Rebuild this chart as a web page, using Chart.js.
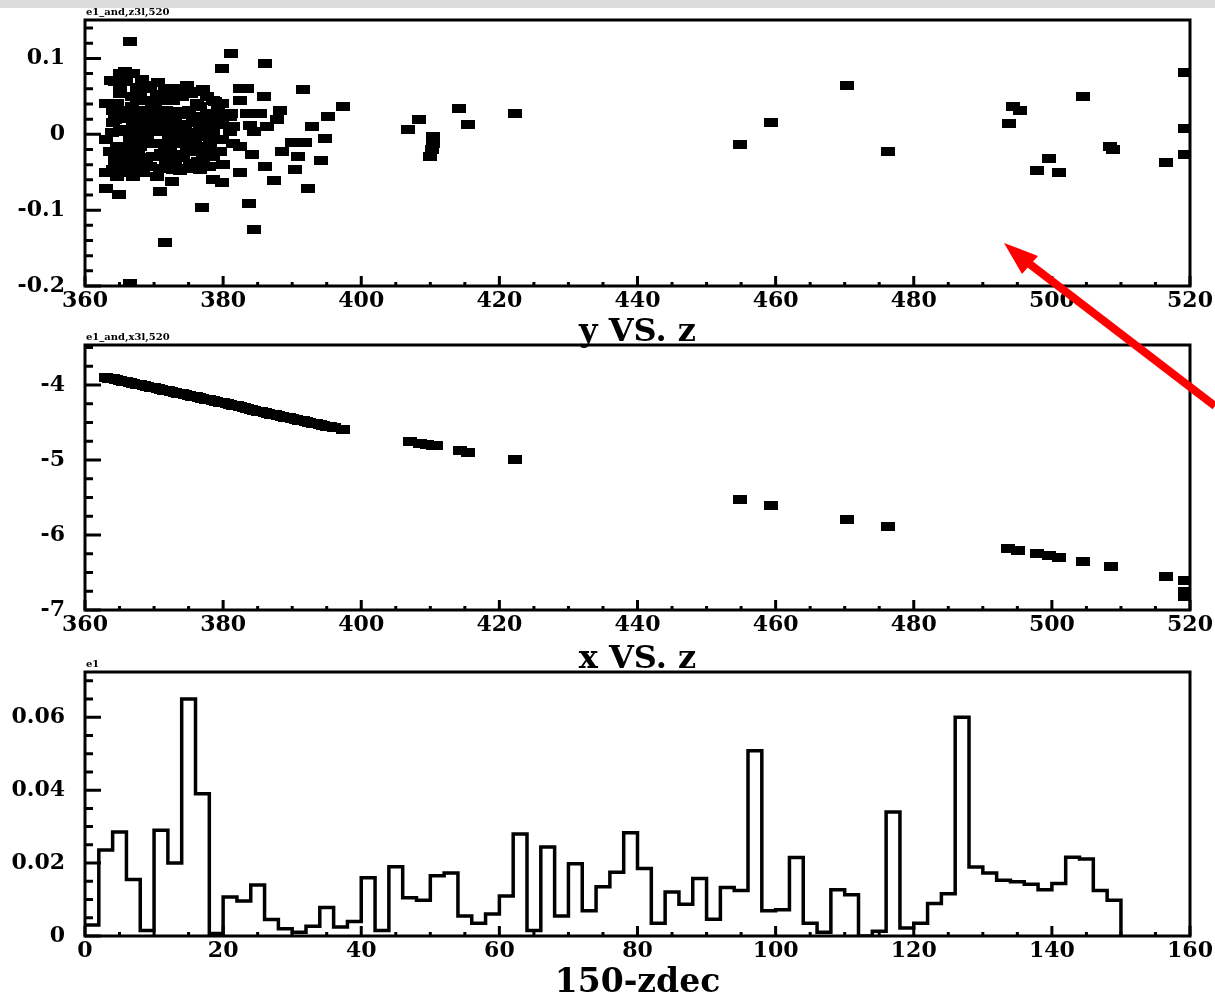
<!DOCTYPE html>
<html>
<head>
<meta charset="utf-8">
<script src="https://cdn.jsdelivr.net/npm/chart.js@4.4.0/dist/chart.umd.min.js"></script>
<style>
  html, body { margin: 0; padding: 0; background: #fff; overflow: hidden; }
  #page { position: relative; width: 1215px; height: 999px; }
  canvas { position: absolute; left: 0; }
  #topbar { position: absolute; left: 0; top: 0; width: 1215px; height: 8px; background: #dcdcdc; }
  #arrow { position: absolute; left: 0; top: 0; }
</style>
</head>
<body>
<div id="page">
  <canvas id="yz" width="1215" height="352" style="top:0"></canvas>
  <canvas id="xz" width="1215" height="350" style="top:330px"></canvas>
  <canvas id="zdec" width="1215" height="345" style="top:660px"></canvas>
  <div id="topbar"></div>
  <svg id="arrow" width="1215" height="999">
    <line x1="1215" y1="406" x2="1027" y2="262" stroke="#ff0000" stroke-width="8"/>
    <polygon points="1004,243 1038,256 1022,274" fill="#ff0000"/>
  </svg>
</div>
<script>
// panel 1: y vs z  [z, y]
const yzPoints = [
  [366.5,0.122],[381.2,0.106],[379.8,0.087],[386.0,0.094],[391.5,0.059],[397.4,0.036],[395.2,0.023],
  [392.8,0.010],[394.8,-0.005],[394.1,-0.034],[392.3,-0.071],[390.4,-0.046],[390.9,-0.029],[390.0,-0.011],
  [391.9,-0.011],[388.5,-0.023],[387.3,-0.061],[386.0,-0.042],[384.2,-0.027],[382.5,-0.051],[383.7,-0.091],
  [384.5,-0.126],[377.0,-0.096],[371.6,-0.143],[370.9,-0.075],[372.6,-0.062],[379.8,-0.064],[378.6,-0.060],
  [366.5,-0.197],[363.1,-0.007],[363.1,-0.051],[363.1,-0.071],[364.9,-0.080],[363.1,0.041],[363.8,0.071],
  [382.5,0.061],[383.5,0.061],[385.9,0.050],[388.3,0.032],[387.8,0.019],[386.4,0.010],[384.4,0.004],
  [385.4,0.028],[382.5,0.045],[381.4,0.010],[381.1,0.028],[377.1,0.059],[378.6,0.045],[383.4,0.028],[383.9,0.012],
  [365.8,0.083],[367.0,0.080],[368.2,0.072],[364.3,0.070],[366.0,0.070],[367.5,0.062],[371.6,0.061],
  [373.3,0.061],[365.1,0.054],[366.8,0.050],[368.9,0.045],[370.4,0.052],[371.8,0.045],[376.7,0.056],
  [377.6,0.050],[378.8,0.043],[363.4,0.040],[365.3,0.032],[366.8,0.037],[368.4,0.032],[370.1,0.037],
  [371.8,0.032],[373.8,0.030],[375.0,0.032],[376.7,0.037],[377.6,0.028],[379.3,0.032],[381.0,0.023],
  [364.3,0.019],[366.0,0.021],[368.0,0.017],[369.7,0.023],[371.3,0.015],[372.8,0.019],[374.5,0.013],
  [376.2,0.017],[377.6,0.010],[379.1,0.013],[365.1,0.004],[366.8,0.002],[368.4,-0.003],[370.4,0.004],
  [372.1,-0.001],[373.8,0.004],[375.4,0.002],[377.1,-0.003],[378.6,0.004],[379.8,-0.007],[381.5,-0.012],
  [382.4,-0.016],[364.6,-0.016],[366.3,-0.020],[368.0,-0.016],[369.7,-0.012],[371.6,-0.018],[373.3,-0.012],
  [374.7,-0.020],[376.7,-0.016],[378.1,-0.012],[364.3,-0.034],[366.0,-0.031],[368.0,-0.038],[369.9,-0.029],
  [371.8,-0.034],[373.5,-0.027],[375.2,-0.038],[377.1,-0.034],[378.6,-0.029],[380.0,-0.040],[364.1,-0.047],
  [365.8,-0.051],[367.5,-0.045],[369.4,-0.042],[372.8,-0.047],[374.7,-0.045],[376.7,-0.047],[366.3,-0.040],
  [364.1,0.032],[368.9,0.061],[365.1,0.080],[367.5,0.045],[372.8,0.045],[374.0,0.050],[370.9,0.023],
  [367.0,0.013],[368.9,0.008],[372.8,0.008],[375.7,0.023],[370.4,-0.012],[367.0,-0.009],[375.9,-0.007],
  [374.2,-0.031],[370.9,-0.045],[368.4,-0.051],[377.6,-0.023],[379.8,0.015],[381.0,0.004],[363.9,0.002],
  [365.3,-0.025],[376.7,0.017],[379.1,0.026],
  [365.1,0.065],[369.4,0.065],[374.7,0.065],[368.0,0.054],[373.8,0.054],[375.4,0.054],
  [364.6,0.041],[369.7,0.041],[376.2,0.041],[379.8,0.041],[366.8,0.026],[368.4,0.026],[372.5,0.026],
  [374.0,0.026],[378.1,0.026],[364.1,0.015],[369.7,0.015],[375.9,0.015],[366.0,0.006],[367.7,0.006],
  [371.3,0.006],[374.5,0.006],[376.7,0.006],[368.9,-0.007],[372.3,-0.007],[374.0,-0.007],[378.6,-0.007],
  [363.6,-0.023],[367.7,-0.023],[372.3,-0.023],[375.9,-0.023],[379.5,-0.023],[368.9,-0.036],[373.0,-0.036],
  [376.4,-0.036],[364.8,-0.042],[377.9,-0.042],[364.6,-0.056],[367.0,-0.056],[370.4,-0.056],
  [370.0,0.030],[372.0,0.052],[373.0,0.015],[375.0,-0.015],[371.0,-0.025],[366.5,-0.008],[369.0,0.000],
  [376.0,0.000],[378.0,0.020],[370.5,0.068],[367.8,-0.030],[373.8,-0.048],
  [406.8,0.006],[408.3,0.020],[410.4,-0.003],[410.4,-0.012],[410.2,-0.020],[409.9,-0.029],[414.2,0.034],
  [415.4,0.0125],[422.2,0.027],[454.8,-0.014],[459.3,0.015],[470.4,0.065],[476.2,-0.023],[493.8,0.014],
  [494.3,0.037],[495.4,0.032],[504.5,0.050],[499.6,-0.032],[497.9,-0.048],[501.1,-0.050],[508.4,-0.016],
  [508.9,-0.020],[516.5,-0.037],[519.3,0.081],[519.3,0.007],[519.3,-0.026]
];

// panel 2: x vs z  [z, x]
const xzPoints = [
  [363.0,-3.90],[363.5,-3.91],[364.0,-3.92],[364.5,-3.93],[365.0,-3.94],[365.5,-3.95],[366.0,-3.96],
  [366.5,-3.97],[367.0,-3.98],[367.5,-3.99],[368.0,-4.00],[368.5,-4.01],[369.0,-4.02],[369.5,-4.03],
  [370.0,-4.04],[370.5,-4.05],[371.0,-4.06],[371.5,-4.07],[372.0,-4.08],[372.5,-4.09],[373.0,-4.10],
  [373.5,-4.11],[374.0,-4.12],[374.5,-4.13],[375.0,-4.14],[375.5,-4.15],[376.0,-4.16],[376.5,-4.17],
  [377.0,-4.18],[377.5,-4.19],[378.0,-4.20],[378.5,-4.21],[379.0,-4.22],[379.5,-4.23],[380.0,-4.24],
  [380.5,-4.25],[381.0,-4.26],[381.5,-4.27],[382.0,-4.28],[382.5,-4.29],[383.0,-4.30],[383.5,-4.315],
  [384.0,-4.33],[384.5,-4.34],[385.0,-4.35],[385.5,-4.36],[386.0,-4.37],[386.5,-4.38],[387.0,-4.39],
  [387.5,-4.40],[388.0,-4.41],[388.5,-4.42],[389.0,-4.43],[389.5,-4.44],[390.0,-4.45],[390.5,-4.46],
  [391.0,-4.47],[391.5,-4.48],[392.0,-4.49],[392.5,-4.50],[393.0,-4.51],[393.5,-4.52],[394.0,-4.53],
  [394.5,-4.54],[395.0,-4.55],[395.5,-4.56],[396.0,-4.57],
  [397.4,-4.60],
  [407.1,-4.76],[408.5,-4.78],[409.5,-4.79],[410.4,-4.81],[410.8,-4.81],[414.3,-4.87],[415.5,-4.90],
  [422.2,-5.00],[454.8,-5.53],[459.3,-5.61],[470.4,-5.79],[476.2,-5.89],[493.7,-6.18],[495.1,-6.21],
  [497.9,-6.25],[499.6,-6.27],[501.1,-6.30],[504.5,-6.35],[508.5,-6.42],[516.5,-6.56],[519.3,-6.61],
  [519.3,-6.76],[519.3,-6.82]
];

// panel 3: histogram of 150-zdec, bins of width 2 from 0 to 150
const binWidth = 2;
const zdecValues = [
  0.003, 0.0236, 0.0285, 0.0155, 0.0015, 0.029, 0.020, 0.065, 0.039, 0.0007,
  0.0107, 0.0096, 0.014, 0.0045, 0.002, 0.001, 0.0027, 0.0078, 0.0025, 0.004,
  0.016, 0.0015, 0.019, 0.0105, 0.0098, 0.0165, 0.0173, 0.0055, 0.0035, 0.006,
  0.011, 0.028, 0.0015, 0.0244, 0.0055, 0.0198, 0.0069, 0.0135, 0.0175, 0.0283,
  0.0185, 0.0035, 0.0121, 0.0087, 0.0158, 0.0046, 0.0133, 0.0125, 0.0508, 0.0069,
  0.0072, 0.0215, 0.0035, 0.001, 0.0127, 0.0113, 0, 0.0013, 0.034, 0.0022,
  0.0035, 0.0089, 0.0116, 0.060, 0.0189, 0.0173, 0.0153, 0.0149, 0.0142, 0.0127,
  0.0144, 0.0216, 0.0211, 0.0125, 0.0098
];

const zTicks = [360, 380, 400, 420, 440, 460, 480, 500, 520];
const yTicks = [-0.2, -0.1, 0, 0.1];
const xTicks = [-7, -6, -5, -4];
const decTicks = [0, 20, 40, 60, 80, 100, 120, 140, 160];
const histTicks = [0, 0.02, 0.04, 0.06];

const tickFont = { family: "'DejaVu Serif'", size: 22, weight: 'bold' };

// ROOT-style frame with inward ticks
const frameTicks = {
  id: 'frameTicks',
  afterDatasetsDraw(chart, args, o) {
    const { ctx, chartArea: a, scales: { x, y } } = chart;
    ctx.save();
    ctx.strokeStyle = '#000';
    ctx.lineWidth = 3;
    ctx.beginPath();
    const nx = Math.round((x.max - x.min) / o.xMinor);
    for (let i = 0; i <= nx; i++) {
      const px = x.getPixelForValue(x.min + i * o.xMinor);
      const len = i % o.xEvery === 0 ? 10 : 4;
      ctx.moveTo(px, a.bottom);
      ctx.lineTo(px, a.bottom - len);
    }
    const ny = Math.floor((y.max - o.yStart) / o.yMinor + 1e-6);
    for (let i = 0; i <= ny; i++) {
      const py = y.getPixelForValue(o.yStart + i * o.yMinor);
      const len = i % o.yEvery === 0 ? 16 : 8;
      ctx.moveTo(a.left, py);
      ctx.lineTo(a.left + len, py);
    }
    ctx.stroke();
    ctx.strokeRect(a.left, a.top, a.right - a.left, a.bottom - a.top);
    ctx.fillStyle = '#000';
    ctx.font = "bold 10px 'DejaVu Serif'";
    ctx.textBaseline = 'bottom';
    ctx.fillText(o.label, a.left + 1, a.top - 3);
    ctx.restore();
  }
};

const mark = document.createElement('canvas');
mark.width = 14;
mark.height = 9;
const mctx = mark.getContext('2d');
mctx.fillStyle = '#000';
mctx.fillRect(0, 0, 14, 9);

const fmt = v => String(+v.toFixed(3));

function makeChart(id, datasets, opt) {
  return new Chart(document.getElementById(id), {
    type: 'scatter',
    data: { datasets },
    options: {
      responsive: false,
      animation: false,
      layout: { padding: { left: 0, right: 25, top: opt.top, bottom: 0 } },
      plugins: {
        legend: { display: false },
        tooltip: { enabled: false },
        frameTicks: opt.frame
      },
      scales: {
        x: {
          type: 'linear', min: opt.xMin, max: opt.xMax,
          afterBuildTicks: s => { s.ticks = opt.xTicks.map(v => ({ value: v })); },
          afterFit: s => { s.height = opt.xHeight; s.paddingLeft = 0; s.paddingRight = 0; },
          grid: { display: false, drawTicks: false },
          border: { display: false },
          ticks: { font: tickFont, color: '#000', padding: 2, maxRotation: 0, autoSkip: false, callback: fmt },
          title: {
            display: true, text: opt.title, color: '#000',
            font: { family: "'DejaVu Serif'", size: opt.titleSize, weight: 'bold' },
            padding: { top: 0, bottom: opt.titlePad }
          }
        },
        y: {
          type: 'linear', min: opt.yMin, max: opt.yMax,
          afterBuildTicks: s => { s.ticks = opt.yTicks.map(v => ({ value: v })); },
          afterFit: s => { s.width = 85; s.paddingTop = 0; s.paddingBottom = 0; },
          grid: { display: false, drawTicks: false },
          border: { display: false },
          ticks: { font: tickFont, color: '#000', padding: 20, autoSkip: false, callback: fmt }
        }
      }
    },
    plugins: [frameTicks]
  });
}

const scatterStyle = { pointStyle: mark, pointRadius: 5, pointHoverRadius: 5, showLine: false };

makeChart('yz', [{ ...scatterStyle, data: yzPoints.map(([z, y]) => ({ x: z, y })) }], {
  top: 20, xMin: 360, xMax: 520, yMin: -0.2, yMax: 0.1507, xTicks: zTicks, yTicks: yTicks,
  xHeight: 66, title: 'y VS. z', titleSize: 32, titlePad: 0,
  frame: { xMinor: 5, xEvery: 4, yStart: -0.2, yMinor: 0.02, yEvery: 5, label: 'e1_and,z3l,520' }
});

makeChart('xz', [{ ...scatterStyle, data: xzPoints.map(([z, x]) => ({ x: z, y: x })) }], {
  top: 15, xMin: 360, xMax: 520, yMin: -7, yMax: -3.467, xTicks: zTicks, yTicks: xTicks,
  xHeight: 70, title: 'x VS. z', titleSize: 32, titlePad: 1,
  frame: { xMinor: 5, xEvery: 4, yStart: -7, yMinor: 0.25, yEvery: 4, label: 'e1_and,x3l,520' }
});

const histData = zdecValues.map((v, i) => ({ x: i * binWidth, y: v }));
histData.push({ x: zdecValues.length * binWidth, y: 0 });

makeChart('zdec', [{
  data: histData, showLine: true, stepped: true, pointRadius: 0,
  borderColor: '#000', borderWidth: 3.5, fill: false
}], {
  top: 12, xMin: 0, xMax: 160, yMin: 0, yMax: 0.0724, xTicks: decTicks, yTicks: histTicks,
  xHeight: 69, title: '150-zdec', titleSize: 33, titlePad: 2,
  frame: { xMinor: 5, xEvery: 4, yStart: 0, yMinor: 0.005, yEvery: 4, label: 'e1' }
});
</script>
</body>
</html>
